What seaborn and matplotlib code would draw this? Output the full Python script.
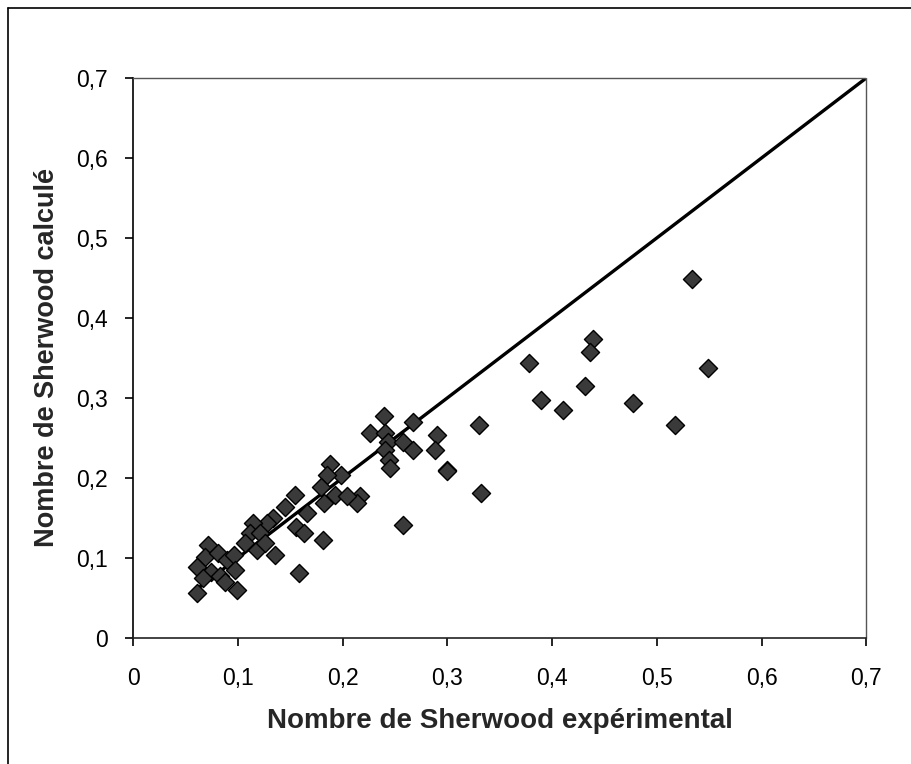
import matplotlib
matplotlib.use("Agg")
import matplotlib.pyplot as plt
import seaborn as sns
import pandas as pd
from matplotlib.ticker import FuncFormatter
from matplotlib.lines import Line2D

sh_exp = [0.240, 0.267, 0.226, 0.241, 0.243, 0.258, 0.267, 0.241, 0.244, 0.245,
          0.290, 0.288, 0.300, 0.188, 0.199, 0.185, 0.179, 0.182, 0.193, 0.217,
          0.214, 0.204, 0.155, 0.145, 0.166, 0.156, 0.163, 0.181, 0.134, 0.128,
          0.115, 0.112, 0.121, 0.107, 0.118, 0.126, 0.136, 0.158, 0.258, 0.072,
          0.069, 0.081, 0.090, 0.096, 0.061, 0.074, 0.067, 0.083, 0.097, 0.088,
          0.099, 0.061, 0.534, 0.439, 0.436, 0.378, 0.549, 0.431, 0.389, 0.410,
          0.477, 0.517, 0.330, 0.332, 0.300]
sh_calc = [0.277, 0.270, 0.256, 0.256, 0.245, 0.245, 0.235, 0.235, 0.222, 0.212,
           0.254, 0.235, 0.210, 0.218, 0.204, 0.204, 0.189, 0.169, 0.179, 0.177,
           0.169, 0.178, 0.179, 0.164, 0.156, 0.139, 0.131, 0.122, 0.150, 0.144,
           0.144, 0.131, 0.131, 0.119, 0.110, 0.119, 0.104, 0.081, 0.141, 0.116,
           0.101, 0.106, 0.098, 0.104, 0.089, 0.083, 0.075, 0.077, 0.085, 0.070,
           0.060, 0.056, 0.449, 0.374, 0.358, 0.344, 0.337, 0.315, 0.297, 0.285,
           0.294, 0.266, 0.266, 0.181, 0.209]
line_x = [0.06, 0.7]
line_y = [0.06, 0.7]
ticks = [0, 0.1, 0.2, 0.3, 0.4, 0.5, 0.6, 0.7]

df = pd.DataFrame({"exp": sh_exp, "calc": sh_calc})

sns.set_theme(style="white")
plt.rcParams["font.family"] = ["Liberation Sans", "DejaVu Sans"]

fig = plt.figure(figsize=(9.11, 7.64), dpi=100)
ax = fig.add_axes([0.146, 0.165, 0.805, 0.733])

sns.lineplot(x=line_x, y=line_y, ax=ax, color="black", linewidth=2.4)
sns.scatterplot(data=df, x="exp", y="calc", ax=ax, marker="D", s=85,
                color="#3a3a3a", edgecolor="black", linewidth=1.0, zorder=3)

ax.set_xlim(0, 0.7)
ax.set_ylim(0, 0.7)
ax.set_xticks(ticks)
ax.set_yticks(ticks)
fmt = FuncFormatter(lambda v, p: "0" if abs(v) < 1e-9 else f"{v:.1f}".replace(".", ","))
ax.xaxis.set_major_formatter(fmt)
ax.yaxis.set_major_formatter(fmt)
ax.tick_params(axis="both", which="major", labelsize=16.5, length=6, width=1.2,
               direction="out", color="black", labelcolor="black")
ax.tick_params(axis="x", bottom=True, pad=15)
ax.tick_params(axis="y", left=True, pad=12)

for side in ["top", "right"]:
    ax.spines[side].set_linestyle((0, (1, 1)))
    ax.spines[side].set_color("#555555")
    ax.spines[side].set_linewidth(1.0)
ax.spines["left"].set_color("black")
ax.spines["left"].set_linewidth(1.2)
ax.spines["bottom"].set_color("#222222")
ax.spines["bottom"].set_linestyle((0, (2, 1)))
ax.spines["bottom"].set_linewidth(1.2)

ax.set_xlabel("Nombre de Sherwood expérimental", fontsize=20, fontweight="bold", labelpad=13)
ax.set_ylabel("Nombre de Sherwood calculé", fontsize=19.5, fontweight="bold", labelpad=12)

# outer scanned frame
fig.add_artist(Line2D([0.009, 0.009], [0.0, 0.99], transform=fig.transFigure, color="black", lw=1.2))
fig.add_artist(Line2D([0.009, 1.0], [0.99, 0.99], transform=fig.transFigure, color="black", lw=1.2))

fig.savefig("out.png", dpi=100)
